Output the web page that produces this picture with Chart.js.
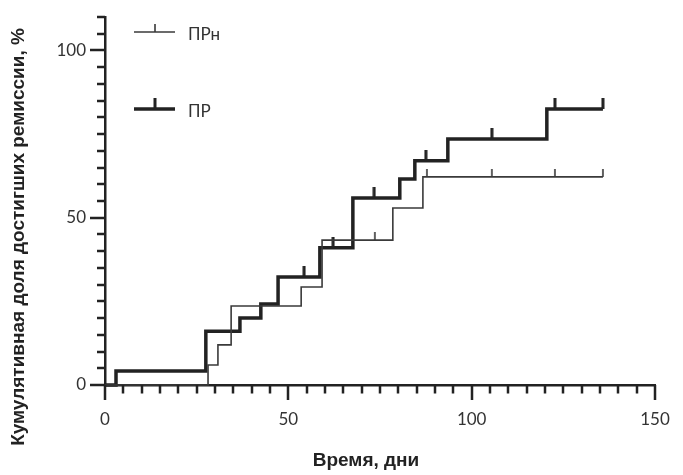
<!DOCTYPE html>
<html>
<head>
<meta charset="utf-8">
<script src="https://cdn.jsdelivr.net/npm/chart.js@4.4.1/dist/chart.umd.min.js"></script>
<style>
  html, body { margin: 0; padding: 0; background: #fff; }
</style>
</head>
<body>
<canvas id="chart" width="683" height="475"></canvas>
<script>
(function() {
  // ПР (thick line): step times and cumulative %
  var prTimes = [0, 3, 27.5, 36.8, 42.5, 47.2, 58.6, 67.6, 80.4, 84.5, 93.5, 120.5, 135.8];
  var prValues = [0, 4.2, 16.1, 20, 24.2, 32.3, 41, 55.9, 61.6, 67, 73.5, 82.5, 82.5];
  var prCensorTimes = [54.3, 62.2, 73.4, 87.5, 105.5, 122.7, 135.8];
  var prCensorValues = [32.3, 41, 55.9, 67, 73.5, 82.5, 82.5];

  // ПРн (thin line)
  var prnTimes = [0, 28.1, 30.8, 34.4, 53.5, 59.2, 78.5, 86.7, 135.8];
  var prnValues = [0, 6, 12, 23.6, 29.3, 43.3, 52.9, 62.2, 62.2];
  var prnCensorTimes = [73.6, 87.8, 105.5, 122.7, 135.8];
  var prnCensorValues = [43.3, 62.2, 62.2, 62.2, 62.2];

  // axis marks: labelled ticks and the small ones every 5 units
  var xTickLabels = [0, 50, 100, 150];
  var yTickLabels = [0, 50, 100];
  var xMinorTicks = [5, 10, 15, 20, 25, 30, 35, 40, 45, 55, 60, 65, 70, 75, 80, 85, 90, 95,
    105, 110, 115, 120, 125, 130, 135, 140, 145];
  var yMinorTicks = [5, 10, 15, 20, 25, 30, 35, 40, 45, 55, 60, 65, 70, 75, 80, 85, 90, 95, 105, 110];

  var seriesNames = ['ПРн', 'ПР'];
  var xTitle = 'Время, дни';
  var yTitle = 'Кумулятивная доля достигших ремиссии, %';

  var ink = '#222';
  var thinInk = '#3a3a3a';

  function toPoints(xs, ys) {
    return xs.map(function(x, i) {
      return { x: x, y: ys[i] };
    });
  }

  // little vertical tick drawn above the point (censored marks)
  function makeTick(len, width, color) {
    var c = document.createElement('canvas');
    c.width = 4;
    c.height = len * 2;
    var g = c.getContext('2d');
    g.fillStyle = color;
    g.fillRect((4 - width) / 2, 0, width, len);
    return c;
  }
  var thinTick = makeTick(8, 1.6, thinInk);
  var thickTick = makeTick(11, 3, ink);

  var tickFont = { family: 'Lato, "Open Sans", sans-serif', size: 17 };

  var decorations = {
    id: 'decorations',
    afterDraw: function(chart) {
      var ctx = chart.ctx;
      var area = chart.chartArea;
      var xs = chart.scales.x;
      var ys = chart.scales.y;
      ctx.save();

      ctx.fillStyle = ink;
      xTickLabels.concat(xMinorTicks).forEach(function(v) {
        var len = xTickLabels.indexOf(v) >= 0 ? 15 : 8.5;
        var px = Math.round(xs.getPixelForValue(v));
        ctx.fillRect(px - 1.25, area.bottom, 2.5, len);
      });
      yTickLabels.concat(yMinorTicks).forEach(function(v) {
        var len = yTickLabels.indexOf(v) >= 0 ? 15 : 8;
        var py = Math.round(ys.getPixelForValue(v));
        ctx.fillRect(area.left - len, py - 1.25, len, 2.5);
      });

      // legend
      var items = [
        { name: seriesNames[0], width: 1.6, color: thinInk, tick: thinTick, dy: 15 },
        { name: seriesNames[1], width: 3.5, color: ink, tick: thickTick, dy: 92 }
      ];
      items.forEach(function(it) {
        var y = area.top + it.dy;
        ctx.strokeStyle = it.color;
        ctx.lineWidth = it.width;
        ctx.beginPath();
        ctx.moveTo(area.left + 29, y);
        ctx.lineTo(area.left + 70, y);
        ctx.stroke();
        ctx.drawImage(it.tick, area.left + 50 - 2, y - it.tick.height / 2);
        ctx.fillStyle = '#333';
        ctx.font = '17px Lato, "Open Sans", sans-serif';
        ctx.textBaseline = 'middle';
        ctx.textAlign = 'left';
        ctx.fillText(it.name, area.left + 83, y + 3);
      });

      // axis titles
      ctx.fillStyle = ink;
      ctx.font = 'bold 19px "Liberation Sans", Arial, sans-serif';
      ctx.textAlign = 'center';
      ctx.textBaseline = 'middle';
      ctx.fillText(xTitle, 366, 461);
      ctx.translate(19, 237);
      ctx.rotate(-Math.PI / 2);
      ctx.fillText(yTitle, 0, 0);
      ctx.restore();
    }
  };

  var chart = new Chart(document.getElementById('chart'), {
    type: 'line',
    data: {
      datasets: [
        {
          label: seriesNames[0],
          data: toPoints(prnTimes, prnValues),
          stepped: 'before',
          borderColor: thinInk,
          borderWidth: 1.6,
          pointRadius: 0,
          fill: false
        },
        {
          label: seriesNames[1],
          data: toPoints(prTimes, prValues),
          stepped: 'before',
          borderColor: ink,
          borderWidth: 3.5,
          pointRadius: 0,
          fill: false
        },
        {
          label: seriesNames[0] + ' censored',
          data: toPoints(prnCensorTimes, prnCensorValues),
          showLine: false,
          pointStyle: thinTick,
          pointRadius: 3
        },
        {
          label: seriesNames[1] + ' censored',
          data: toPoints(prCensorTimes, prCensorValues),
          showLine: false,
          pointStyle: thickTick,
          pointRadius: 3
        }
      ]
    },
    options: {
      responsive: false,
      animation: false,
      devicePixelRatio: 1,
      clip: false,
      layout: { padding: { top: 17, right: 28, left: 0, bottom: 0 } },
      plugins: {
        legend: { display: false },
        tooltip: { enabled: false }
      },
      scales: {
        x: {
          type: 'linear',
          min: 0,
          max: 150,
          afterFit: function(scale) { scale.height = 90; },
          afterBuildTicks: function(scale) {
            scale.ticks = xTickLabels.map(function(v) { return { value: v }; });
          },
          border: { display: true, color: ink, width: 2.5 },
          grid: {
            drawOnChartArea: false,
            drawTicks: true,
            tickLength: 15,
            tickColor: 'rgba(0,0,0,0)'
          },
          ticks: {
            autoSkip: false,
            maxRotation: 0,
            padding: 9,
            color: '#333',
            font: tickFont
          }
        },
        y: {
          type: 'linear',
          min: 0,
          max: 110,
          afterFit: function(scale) { scale.width = 105; },
          afterBuildTicks: function(scale) {
            scale.ticks = yTickLabels.map(function(v) { return { value: v }; });
          },
          border: { display: true, color: ink, width: 2.5 },
          grid: {
            drawOnChartArea: false,
            drawTicks: true,
            tickLength: 15,
            tickColor: 'rgba(0,0,0,0)'
          },
          ticks: {
            autoSkip: false,
            padding: 4,
            color: '#333',
            font: tickFont
          }
        }
      }
    },
    plugins: [decorations]
  });
})();
</script>
</body>
</html>
